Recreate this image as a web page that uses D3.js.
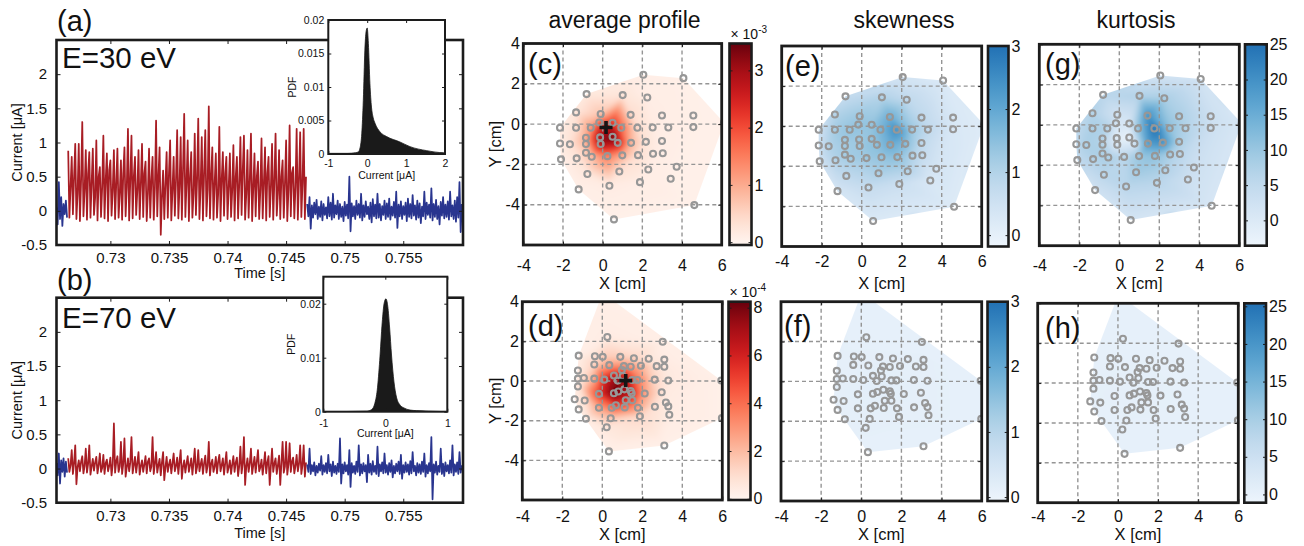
<!DOCTYPE html>
<html><head><meta charset="utf-8">
<script src="https://cdn.jsdelivr.net/npm/d3@7"></script>
<style>
html,body{margin:0;padding:0;background:#fff;}
svg{display:block;}
</style></head><body>
<svg id="fig" width="1304" height="546"></svg>
<script>
// ---------------- DATA ----------------
const sampleDt = 0.0001;                 // s
const timeDomain = [0.7254, 0.7601];
const currentDomain = [-0.5, 2.5];
const timeTicks = [0.73, 0.735, 0.74, 0.745, 0.75, 0.755];
const currentTicks = [-0.5, 0, 0.5, 1, 1.5, 2];
const tStartBlue1 = 0.7254, tStartRed = 0.7264, tStartBlue2 = 0.7468;

// (a) E=30 eV
const blueA1 = [0.05,-0.20,0.42,-0.12,0.20,-0.22,0.10,-0.05,0.15,-0.10];
const redA_peaks = [0.88,0.79,0.98,0.98,1.30,0.89,0.86,0.91,1.03,0.64,1.10,0.84,0.74,0.89,0.91,0.74,0.93,1.20,1.10,0.79,0.89,0.98,0.72,0.91,0.79,1.32,0.93,0.59,0.86,1.03,0.79,1.18,1.08,1.42,1.03,0.86,1.13,1.35,1.08,1.18,1.53,0.93,0.84,1.23,0.86,0.79,0.84,0.96,0.79,1.08,1.10,0.89,1.13,0.84,0.72,1.06,0.93,0.79,0.98,1.13,0.89,0.74,1.03,1.25,0.64,1.20,1.15,1.20];
const redA_lows = [-0.10,-0.05,-0.12,-0.15,-0.08,-0.13,-0.10,-0.06,-0.14,-0.09,-0.11,-0.15,-0.07,-0.12,-0.10,-0.13,-0.08,-0.14,-0.11,-0.06,-0.12,-0.09,-0.15,-0.10,-0.13,-0.08,-0.35,-0.12,-0.10,-0.14,-0.07,-0.11,-0.13,-0.09,-0.15,-0.10,-0.06,-0.12,-0.14,-0.08,-0.11,-0.13,-0.10,-0.15,-0.07,-0.12,-0.09,-0.14,-0.11,-0.06,-0.13,-0.10,-0.15,-0.08,-0.12,-0.11,-0.14,-0.09,-0.13,-0.07,-0.12,-0.10,-0.15,-0.08,-0.11,-0.13,-0.09,-0.12];
const redA_mids = [0.35,0.50,0.25,0.45,0.30,0.55,0.40,0.20,0.50,0.35,0.45,0.60,0.30,0.40,0.25,0.55,0.35,0.45,0.50,0.30,0.40,0.55,0.25,0.45,0.35,0.50,0.20,0.40,0.55,0.30,0.45,0.35,0.60,0.40,0.50,0.25,0.45,0.35,0.55,0.30,0.50,0.40,0.25,0.45,0.55,0.35,0.30,0.50,0.40,0.60,0.25,0.45,0.35,0.50,0.30,0.40,0.55,0.35,0.45,0.25,0.50,0.40,0.30,0.55,0.35,0.45,0.40,0.50];
const blueA2_highs = [0.10,0.20,0.08,0.12,0.16,0.06,0.14,0.10,0.05,0.20,0.12,0.25,0.08,0.15,0.10,0.06,0.13,0.09,0.50,0.11,0.07,0.15,0.10,0.25,0.08,0.14,0.06,0.12,0.17,0.09,0.25,0.10,0.07,0.15,0.11,0.18,0.06,0.13,0.28,0.09,0.14,0.07,0.12,0.18,0.10,0.23,0.08,0.15,0.11,0.06,0.28,0.12,0.09,0.33,0.10,0.16,0.07,0.13,0.20,0.09,0.14,0.28,0.08,0.15,0.20,0.42,0.10];
const blueA2_lows = [-0.08,-0.26,-0.10,-0.05,-0.12,-0.09,-0.14,-0.06,-0.11,-0.08,-0.13,-0.10,-0.05,-0.12,-0.09,-0.15,-0.07,-0.11,-0.30,-0.08,-0.12,-0.06,-0.10,-0.14,-0.09,-0.05,-0.12,-0.17,-0.08,-0.11,-0.10,-0.14,-0.06,-0.12,-0.09,-0.13,-0.07,-0.10,-0.25,-0.08,-0.12,-0.06,-0.15,-0.09,-0.11,-0.07,-0.13,-0.10,-0.18,-0.08,-0.12,-0.06,-0.10,-0.14,-0.09,-0.12,-0.20,-0.07,-0.11,-0.09,-0.13,-0.08,-0.12,-0.16,-0.10,-0.31];

// (b) E=70 eV
const blueB1 = [0.08,-0.10,0.22,-0.22,0.12,-0.05,0.15,-0.12,0.10,-0.06];
const redB_peaks = [0.15,0.27,0.34,0.12,0.18,0.29,0.34,0.14,0.17,0.22,0.20,0.13,0.16,0.66,0.18,0.39,0.44,0.15,0.46,0.17,0.24,0.12,0.18,0.15,0.46,0.24,0.14,0.24,0.17,0.13,0.22,0.16,0.27,0.12,0.18,0.15,0.29,0.27,0.14,0.19,0.39,0.13,0.17,0.20,0.15,0.24,0.12,0.18,0.16,0.32,0.46,0.15,0.29,0.17,0.27,0.13,0.24,0.18,0.29,0.15,0.19,0.39,0.39,0.37,0.16,0.20,0.34,0.34];
const redB_lows = [-0.05,-0.08,-0.23,-0.04,-0.07,-0.06,-0.09,-0.03,-0.07,-0.05,-0.08,-0.04,-0.10,-0.06,-0.05,-0.08,-0.12,-0.04,-0.07,-0.06,-0.09,-0.05,-0.07,-0.04,-0.08,-0.06,-0.10,-0.17,-0.05,-0.07,-0.04,-0.08,-0.15,-0.06,-0.05,-0.09,-0.07,-0.04,-0.08,-0.06,-0.10,-0.05,-0.07,-0.04,-0.09,-0.06,-0.08,-0.05,-0.11,-0.07,-0.24,-0.05,-0.08,-0.06,-0.04,-0.09,-0.07,-0.24,-0.05,-0.08,-0.24,-0.06,-0.09,-0.05,-0.07,-0.04,-0.08,-0.12];
const redB_mids = [0.05,0.08,0.02,0.10,0.04,0.07,0.03,0.09,0.05,0.01,0.08,0.04,0.06,0.10,0.03,0.07,0.02,0.09,0.05,0.08,0.04,0.06,0.10,0.03,0.07,0.05,0.09,0.02,0.06,0.08,0.04,0.10,0.03,0.07,0.05,0.09,0.02,0.06,0.08,0.04,0.07,0.03,0.10,0.05,0.08,0.02,0.06,0.09,0.04,0.07,0.03,0.08,0.05,0.10,0.02,0.06,0.09,0.04,0.07,0.05,0.08,0.03,0.06,0.10,0.04,0.07,0.05,0.09];
const blueB2_highs = [0.06,0.29,0.05,0.09,0.04,0.07,0.18,0.05,0.08,0.20,0.06,0.10,0.04,0.07,0.44,0.06,0.09,0.05,0.27,0.08,0.04,0.10,0.34,0.06,0.08,0.05,0.20,0.07,0.11,0.04,0.32,0.06,0.09,0.22,0.05,0.08,0.12,0.04,0.07,0.10,0.20,0.05,0.09,0.06,0.11,0.24,0.04,0.08,0.06,0.10,0.22,0.05,0.08,0.46,0.06,0.10,0.04,0.29,0.07,0.09,0.05,0.12,0.34,0.06,0.09,0.24,0.05];
const blueB2_lows = [-0.05,-0.08,-0.04,-0.10,-0.06,-0.03,-0.09,-0.05,-0.07,-0.04,-0.11,-0.06,-0.08,-0.05,-0.22,-0.07,-0.04,-0.09,-0.27,-0.06,-0.08,-0.05,-0.10,-0.07,-0.04,-0.20,-0.06,-0.09,-0.05,-0.08,-0.11,-0.04,-0.07,-0.06,-0.09,-0.05,-0.13,-0.07,-0.04,-0.08,-0.15,-0.06,-0.05,-0.09,-0.07,-0.04,-0.10,-0.06,-0.08,-0.05,-0.12,-0.07,-0.04,-0.45,-0.06,-0.09,-0.05,-0.08,-0.11,-0.04,-0.07,-0.06,-0.10,-0.05,-0.08,-0.06];

// inset PDFs
const pdfA_current = [-1,-0.8,-0.5,-0.3,-0.23,-0.18,-0.14,-0.1,-0.06,-0.03,0,0.03,0.07,0.11,0.15,0.2,0.33,0.5,0.84,1.1,1.53,1.96,2];
const pdfA_value = [0.0001,0.0001,0.0001,0.0002,0.0003,0.001,0.003,0.008,0.0155,0.0182,0.0188,0.0165,0.0105,0.007,0.0055,0.0046,0.0033,0.0026,0.0018,0.0011,0.0005,0.0002,0.0002];
const pdfB_current = [-1,-0.3,-0.22,-0.17,-0.13,-0.09,-0.05,-0.02,0.01,0.04,0.07,0.1,0.14,0.18,0.24,0.3,0.4,0.5,0.7,1];
const pdfB_value = [0,0.0001,0.0004,0.0015,0.004,0.0095,0.0165,0.02,0.0209,0.0195,0.0155,0.0105,0.0055,0.0027,0.0012,0.0007,0.0003,0.0002,0.0001,0];
const pdfA_xTicks = [-1,0,1,2], pdfA_yTicks = [0,0.005,0.01,0.015,0.02];
const pdfB_xTicks = [-1,0,1], pdfB_yTicks = [0,0.01,0.02];

// probe positions (cm)
const probeX30 = [2.05,4.07,-0.81,1.01,2.25,-1.34,-0.10,1.41,2.99,4.57,6.12,-2.15,-1.34,-0.60,-0.17,0.50,0.94,1.75,2.52,3.31,4.57,-2.15,-1.65,-0.84,-0.84,-0.13,-0.10,0.50,0.76,1.43,2.18,2.99,-2.10,-1.31,-0.84,-0.55,0.24,0.99,1.78,2.54,3.03,3.73,2.30,-0.77,0.84,3.43,1.88,0.34,-1.21,4.62,0.57];
const probeY30 = [2.45,2.28,1.49,1.44,1.32,0.58,0.50,0.46,0.43,0.43,0.07,-0.18,-0.18,-0.18,0.08,0.07,-0.18,-0.18,-0.17,-0.17,-0.15,-0.96,-1.00,-0.68,-0.99,-0.66,-0.99,-0.63,-0.93,-0.93,-0.88,-0.84,-1.75,-1.70,-1.42,-1.62,-1.59,-1.55,-1.54,-1.47,-1.45,-2.12,-2.25,-2.48,-2.35,-2.71,-2.88,-3.06,-3.24,-4.02,-4.73];
const avgProfile30 = [0.08,0.06,0.2,0.25,0.12,0.25,0.7,0.4,0.12,0.06,0.04,0.12,0.35,1.2,2.0,2.3,1.7,0.4,0.15,0.1,0.06,0.12,0.3,1.0,0.9,3.1,2.9,3.45,2.8,0.9,0.25,0.1,0.08,0.25,0.6,0.8,1.5,1.0,0.35,0.15,0.1,0.06,0.12,0.2,0.3,0.06,0.12,0.15,0.08,0.04,0.05]; // x1e-3
const skewness30 = [0.4,0.25,0.7,1.0,0.8,1.0,1.3,1.9,0.8,0.3,0.15,0.5,1.2,1.4,1.4,1.4,1.7,2.5,1.3,0.8,0.3,0.5,1.0,1.3,1.2,1.3,1.3,1.4,1.5,1.9,1.6,0.8,0.5,1.0,1.2,1.2,1.3,1.4,1.5,1.0,0.7,0.4,1.0,0.8,1.1,0.3,0.6,0.7,0.4,0.2,0.25];
const kurtosis30 = [2,2,6,7,8,7,2,20,8,3,1,5,8,7,1.5,1,11,25,11,7,3,5,8,7,7,-1,0,-3,1,18,20,8,5,7,8,8,6,10,11,8,6,3,7,6,9,3,6,6,2.5,1,1.5];
const crossAvg30 = [0.17, -0.17];

const probeX70 = [0.25,3.02,-1.18,-0.37,0.02,0.90,1.58,2.32,3.10,-0.40,0.35,1.08,1.42,1.93,2.72,3.10,0.98,-1.22,-1.22,-0.92,-0.40,0.10,0.58,1.02,0.77,1.50,1.75,2.62,3.30,5.95,-1.22,-1.38,-0.88,-1.18,-0.82,-0.17,0.58,0.80,1.10,1.42,1.47,1.17,1.50,2.12,2.97,-0.17,0.47,0.68,1.12,1.78,2.63,3.18,3.30,3.35,0.42,1.88,0.22,5.98,3.10,0.33,0.02];
const probeY70 = [2.22,1.98,1.28,1.25,1.22,1.22,1.15,1.12,1.08,0.83,0.80,0.75,0.72,0.77,0.75,0.72,0.55,0.53,0.12,0.15,0.12,0.07,0.28,0.25,0.02,0.05,0.05,0.07,0.03,0.03,-0.28,-0.92,-0.98,-1.43,-1.90,-0.65,-0.62,-0.53,-0.42,-0.50,-0.62,-0.97,-0.97,-0.63,-0.57,-1.35,-1.35,-1.22,-1.33,-1.35,-1.30,-1.08,-1.28,-1.70,-1.88,-1.78,-2.33,-1.87,-3.25,-3.55,4.45];
const avgProfile70 = [0.4,0.3,0.3,0.8,1.5,1.5,1.2,0.6,0.4,1.3,2.8,3.2,3.0,2.2,0.8,0.5,4.5,0.4,0.5,1.1,2.5,5.8,6.3,6.3,7.8,5.3,3.8,1.2,0.5,0.2,0.5,0.4,0.9,0.4,0.4,5.3,8.2,8.0,7.3,6.3,6.3,5.8,4.8,2.7,0.8,2.7,3.8,5.3,4.0,2.7,0.8,0.4,0.4,0.4,1.6,1.1,0.6,0.2,0.2,0.2,0.2]; // x1e-4
const skewness70 = [0.08,0.08,0.12,0.12,0.12,0.12,0.12,0.12,0.12,0.12,0.12,0.14,0.14,0.12,0.12,0.12,0.14,0.12,0.12,0.12,0.12,0.15,0.15,0.15,0.15,0.15,0.15,0.12,0.12,0.08,0.12,0.12,0.12,0.12,0.12,0.15,0.15,0.15,0.15,0.15,0.15,0.15,0.15,0.14,0.12,0.12,0.14,0.14,0.14,0.12,0.12,0.12,0.12,0.12,0.12,0.12,0.12,0.08,0.08,0.08,0.08];
const kurtosis70 = [0.1,0.1,0.3,0.3,0.3,0.3,0.3,0.3,0.3,0.3,0.3,0.4,0.4,0.3,0.3,0.3,0.4,0.3,0.3,0.3,0.3,0.5,0.5,0.5,0.5,0.5,0.5,0.3,0.3,0.1,0.3,0.3,0.3,0.3,0.3,0.5,0.5,0.5,0.5,0.5,0.5,0.5,0.5,0.4,0.3,0.3,0.4,0.4,0.4,0.3,0.3,0.3,0.3,0.3,0.3,0.3,0.3,0.1,0.1,0.1,0.1];
const crossAvg70 = [1.17, 0.02];

const mapXDomain = [-4, 6], mapYDomain = [-6, 4];
const mapXTicks = [-4,-2,0,2,4,6], mapYTicks = [-4,-2,0,2,4];
const gridX = [-2,0,2,4], gridY = [-4,-2,0,2];
const cbAvg30 = [-0.05, 3.47], cbAvg70 = [-0.05, 8.25];
const cbSkew30 = [-0.18, 3.0], cbSkew70 = [-0.06, 3.0];
const cbKurt30 = [-3.6, 25], cbKurt70 = [-1.1, 25.4];
const cbTicksAvg30 = [0,1,2,3], cbTicksAvg70 = [0,2,4,6,8];
const cbTicksSkew = [0,1,2,3], cbTicksKurt = [0,5,10,15,20,25];

// ---------------- DRAWING ----------------
const FONT = '"Liberation Sans", Arial, Helvetica, sans-serif';
const INK = '#1c1c1c';
const RED = '#a81d24', BLUE = '#29358f';
const svg = d3.select('#fig').attr('font-family', FONT);
const defs = svg.append('defs');
defs.append('filter').attr('id','soft').attr('x','-10%').attr('y','-10%').attr('width','120%').attr('height','120%')
  .append('feGaussianBlur').attr('stdDeviation', 2.8);
const hy = d => String(+(+d).toFixed(4)).replace('\u2212','-');

function interleave(...arrs){
  const out=[]; const n=Math.max(...arrs.map(a=>a.length));
  for(let i=0;i<n;i++) for(const a of arrs) if(i<a.length) out.push(a[i]);
  return out;
}
function styleAxis(sel, fs){
  sel.attr('font-family', FONT).attr('font-size', fs);
  sel.select('.domain').remove();
  sel.selectAll('.tick line').attr('stroke', INK).attr('stroke-width', 1);
  sel.selectAll('.tick text').attr('fill', '#111');
}
let clipN = 0;
function clipRect(x0,y0,x1,y1){
  const id = 'cl'+(clipN++);
  defs.append('clipPath').attr('id',id).append('rect').attr('x',x0).attr('y',y0).attr('width',x1-x0).attr('height',y1-y0);
  return `url(#${id})`;
}

// ---- time trace panels ----
function tracePanel(c){
  const x = d3.scaleLinear().domain(timeDomain).range([c.x0,c.x1]);
  const y = d3.scaleLinear().domain(currentDomain).range([c.y1,c.y0]);
  const g = svg.append('g');
  const plot = g.append('g').attr('clip-path', clipRect(c.x0,c.y0,c.x1,c.y1));
  const line = d3.line().x(d=>x(d[0])).y(d=>y(d[1]));
  c.segs.forEach(s=>{
    const pts = s.v.map((v,i)=>[s.t0 + i*sampleDt, v]);
    plot.append('path').attr('d', line(pts)).attr('fill','none').attr('stroke', s.color)
      .attr('stroke-width', 1.75).attr('stroke-linejoin','round');
  });
  g.append('g').attr('transform',`translate(0,${c.y1})`)
    .call(d3.axisBottom(x).tickValues(timeTicks).tickSize(-4).tickPadding(7.6).tickFormat(hy)).call(styleAxis,15);
  g.append('g').attr('transform',`translate(0,${c.y0})`)
    .call(d3.axisTop(x).tickValues(timeTicks).tickSize(-4).tickFormat('')).call(styleAxis,15);
  g.append('g').attr('transform',`translate(${c.x0},0)`)
    .call(d3.axisLeft(y).tickValues(currentTicks).tickSize(-4).tickPadding(9.5).tickFormat(hy)).call(styleAxis,15);
  g.append('g').attr('transform',`translate(${c.x1},0)`)
    .call(d3.axisRight(y).tickValues(currentTicks).tickSize(-4).tickFormat('')).call(styleAxis,15);
  g.append('rect').attr('x',c.x0).attr('y',c.y0).attr('width',c.x1-c.x0).attr('height',c.y1-c.y0)
    .attr('fill','none').attr('stroke',INK).attr('stroke-width',2.6);
  g.append('text').attr('x',(c.x0+c.x1)/2).attr('y',c.timeY).attr('text-anchor','middle')
    .attr('font-size',14.5).attr('fill','#111').text('Time [s]');
  g.append('text').attr('transform',`translate(17,${(c.y0+c.y1)/2}) rotate(-90)`).attr('dy','0.35em')
    .attr('text-anchor','middle').attr('font-size',14.5).attr('fill','#111').text('Current [\u03bcA]');
  g.append('text').attr('x',57).attr('y',c.labelY).attr('font-size',29).attr('fill','#111').text(c.label);
  g.append('text').attr('x',62).attr('y',c.energyY).attr('font-size',29.5).attr('fill','#111').text(c.energy);
}

function insetPanel(c){
  const x = d3.scaleLinear().domain(c.xdom).range([c.x0,c.x1]);
  const y = d3.scaleLinear().domain(c.ydom).range([c.y1,c.y0]);
  const g = svg.append('g');
  g.append('rect').attr('x',c.x0).attr('y',c.y0).attr('width',c.x1-c.x0).attr('height',c.y1-c.y0).attr('fill','#fff');
  const pts = c.xs.map((v,i)=>[v, c.ys[i]]);
  g.append('g').attr('clip-path', clipRect(c.x0,c.y0,c.x1,c.y1)).append('path')
    .attr('d', d3.area().x(d=>x(d[0])).y0(y(0)).y1(d=>y(d[1])).curve(d3.curveMonotoneX)(pts))
    .attr('fill','#1a1a1a').attr('stroke','#1a1a1a').attr('stroke-width',0.8);
  g.append('g').attr('transform',`translate(0,${c.y1})`)
    .call(d3.axisBottom(x).tickValues(c.xticks).tickSize(-3).tickPadding(c.xpad).tickFormat(hy)).call(styleAxis,10.5);
  g.append('g').attr('transform',`translate(0,${c.y0})`)
    .call(d3.axisTop(x).tickValues(c.xticks).tickSize(-3).tickFormat('')).call(styleAxis,10.5);
  g.append('g').attr('transform',`translate(${c.x0},0)`)
    .call(d3.axisLeft(y).tickValues(c.yticks).tickSize(-3).tickPadding(c.ypad).tickFormat(hy)).call(styleAxis,10.5);
  g.append('g').attr('transform',`translate(${c.x1},0)`)
    .call(d3.axisRight(y).tickValues(c.yticks).tickSize(-3).tickFormat('')).call(styleAxis,10.5);
  g.append('rect').attr('x',c.x0).attr('y',c.y0).attr('width',c.x1-c.x0).attr('height',c.y1-c.y0)
    .attr('fill','none').attr('stroke',INK).attr('stroke-width',2);
  g.append('text').attr('x',(c.x0+c.x1)/2).attr('y',c.xlabY).attr('text-anchor','middle')
    .attr('font-size',10.5).attr('fill','#111').text('Current [\u03bcA]');
  g.append('text').attr('transform',`translate(${c.pdfX},${(c.y0+c.y1)/2}) rotate(-90)`).attr('dy','0.35em')
    .attr('text-anchor','middle').attr('font-size',10.5).attr('fill','#111').text('PDF');
}

// ---- map panels ----
const redMap = t => d3.interpolateReds(t);
const blueMap = t => d3.interpolateBlues(0.05 + 0.7*t);

function buildField(px, py, vals, norm, lut, ox, oy, W, H){
  const n = px.length, coords = new Float64Array(2*n);
  for(let i=0;i<n;i++){coords[2*i]=px[i]; coords[2*i+1]=py[i];}
  const del = new d3.Delaunay(coords);
  const grid = new Float32Array(W*H).fill(NaN);
  const T = del.triangles;
  for(let t=0;t<T.length;t+=3){
    const a=T[t], b=T[t+1], c=T[t+2];
    const ax=px[a]-ox, ay=py[a]-oy, bx=px[b]-ox, by=py[b]-oy, cx=px[c]-ox, cy=py[c]-oy;
    const det=(by-cy)*(ax-cx)+(cx-bx)*(ay-cy);
    if(Math.abs(det)<1e-9) continue;
    const i0=Math.max(0,Math.floor(Math.min(ax,bx,cx))), i1=Math.min(W-1,Math.ceil(Math.max(ax,bx,cx)));
    const j0=Math.max(0,Math.floor(Math.min(ay,by,cy))), j1=Math.min(H-1,Math.ceil(Math.max(ay,by,cy)));
    for(let j=j0;j<=j1;j++){ const Y=j+0.5;
      for(let i=i0;i<=i1;i++){ const X=i+0.5;
        const l1=((by-cy)*(X-cx)+(cx-bx)*(Y-cy))/det;
        const l2=((cy-ay)*(X-cx)+(ax-cx)*(Y-cy))/det;
        const l3=1-l1-l2;
        if(l1>=-1e-4&&l2>=-1e-4&&l3>=-1e-4) grid[j*W+i]=l1*vals[a]+l2*vals[b]+l3*vals[c];
      }}
  }
  let hint=0;
  for(let j=0;j<H;j++) for(let i=0;i<W;i++){
    const k=j*W+i;
    if(isNaN(grid[k])){ hint=del.find(i+0.5+ox, j+0.5+oy, hint); grid[k]=vals[hint]; }
  }
  const cv=document.createElement('canvas'); cv.width=W; cv.height=H;
  const ctx=cv.getContext('2d'); const img=ctx.createImageData(W,H);
  for(let k=0;k<W*H;k++){
    const t=Math.max(0,Math.min(1,norm(grid[k])));
    const col=lut[Math.round(t*255)];
    img.data[4*k]=col.r; img.data[4*k+1]=col.g; img.data[4*k+2]=col.b; img.data[4*k+3]=255;
  }
  ctx.putImageData(img,0,0);
  return {url: cv.toDataURL(), hull: del.renderHull()};
}

function mapPanel(c){
  const x = d3.scaleLinear().domain(mapXDomain).range([c.x0,c.x1]);
  const y = d3.scaleLinear().domain(mapYDomain).range([c.y1,c.y0]);
  const cs = d3.scaleLinear().domain(c.cbDom).range([c.y1,c.y0]);
  const norm = v => (v - c.cbDom[0])/(c.cbDom[1]-c.cbDom[0]);
  const lut = d3.range(256).map(i=>d3.rgb(c.cmap(i/255)));
  const g = svg.append('g');
  const pad = 14, ox = c.x0 - pad, oy = c.y0 - pad;
  const W = Math.ceil(c.x1 - c.x0 + 2*pad), H = Math.ceil(c.y1 - c.y0 + 2*pad);
  const px = c.xs.map(x), py = c.ys.map(y);
  const f = buildField(px, py, c.vals, norm, lut, ox, oy, W, H);
  const hid = 'hull'+(clipN++);
  defs.append('clipPath').attr('id',hid).append('path').attr('d', f.hull);
  const inner = g.append('g').attr('clip-path', clipRect(c.x0,c.y0,c.x1,c.y1));
  inner.append('g').attr('clip-path',`url(#${hid})`).append('image')
    .attr('x',ox).attr('y',oy).attr('width',W).attr('height',H).attr('href',f.url)
    .attr('preserveAspectRatio','none').attr('filter','url(#soft)');
  const gridG = inner.append('g').attr('stroke','#959595').attr('stroke-width',1.4).attr('stroke-dasharray','4,3');
  gridX.forEach(v=>gridG.append('line').attr('x1',x(v)).attr('x2',x(v)).attr('y1',c.y0).attr('y2',c.y1));
  gridY.forEach(v=>gridG.append('line').attr('y1',y(v)).attr('y2',y(v)).attr('x1',c.x0).attr('x2',c.x1));
  inner.append('g').selectAll('circle').data(c.xs.map((v,i)=>[v,c.ys[i]])).join('circle')
    .attr('cx',d=>x(d[0])).attr('cy',d=>y(d[1])).attr('r',3)
    .attr('fill','none').attr('stroke','#979797').attr('stroke-width',2.1);
  if(c.cross){
    inner.append('path').attr('transform',`translate(${x(c.cross[0])},${y(c.cross[1])})`)
      .attr('d','M-6.5,0H6.5M0,-6.5V6.5').attr('stroke','#151515').attr('stroke-width',3.6);
  }
  // axes
  g.append('g').attr('transform',`translate(0,${c.y1})`)
    .call(d3.axisBottom(x).tickValues(mapXTicks).tickSize(-3.5).tickPadding(c.xpad).tickFormat(hy)).call(styleAxis,16);
  g.append('g').attr('transform',`translate(0,${c.y0})`)
    .call(d3.axisTop(x).tickValues(mapXTicks).tickSize(-3.5).tickFormat('')).call(styleAxis,16);
  g.append('g').attr('transform',`translate(${c.x0},0)`)
    .call(d3.axisLeft(y).tickValues(mapYTicks).tickSize(-3.5).tickPadding(3.5).tickFormat(c.showY?hy:'')).call(styleAxis,16);
  g.append('g').attr('transform',`translate(${c.x1},0)`)
    .call(d3.axisRight(y).tickValues(mapYTicks).tickSize(-3.5).tickFormat('')).call(styleAxis,16);
  g.append('rect').attr('x',c.x0).attr('y',c.y0).attr('width',c.x1-c.x0).attr('height',c.y1-c.y0)
    .attr('fill','none').attr('stroke',INK).attr('stroke-width',2.8);
  g.append('text').attr('x',(c.x0+c.x1)/2).attr('y',c.xlabY).attr('text-anchor','middle')
    .attr('font-size',16.5).attr('fill','#111').text('X [cm]');
  if(c.showY){
    g.append('text').attr('transform',`translate(495,${(c.y0+c.y1)/2}) rotate(-90)`).attr('dy','0.35em')
      .attr('text-anchor','middle').attr('font-size',16.5).attr('fill','#111').text('Y [cm]');
  }
  g.append('text').attr('x',c.labX).attr('y',c.labY).attr('font-size',29).attr('fill','#111').text(c.label);
  if(c.title){
    g.append('text').attr('x',c.titleX).attr('y',28).attr('text-anchor','middle')
      .attr('font-size',23).attr('fill','#111').text(c.title);
  }
  // colorbar
  const gid = 'grad'+(clipN++);
  const grad = defs.append('linearGradient').attr('id',gid).attr('x1',0).attr('x2',0).attr('y1',1).attr('y2',0);
  d3.range(0,1.0001,0.05).forEach(t=>grad.append('stop').attr('offset',t).attr('stop-color',c.cmap(t)));
  g.append('rect').attr('x',c.cb[0]).attr('y',c.y0).attr('width',c.cb[1]-c.cb[0]).attr('height',c.y1-c.y0)
    .attr('fill',`url(#${gid})`);
  g.append('g').attr('transform',`translate(${c.cb[1]},0)`)
    .call(d3.axisRight(cs).tickValues(c.cbTicks).tickSize(-3).tickPadding(3).tickFormat(hy)).call(styleAxis,16);
  g.append('g').attr('transform',`translate(${c.cb[0]},0)`)
    .call(d3.axisLeft(cs).tickValues(c.cbTicks).tickSize(-3).tickFormat('')).call(styleAxis,16);
  g.append('rect').attr('x',c.cb[0]).attr('y',c.y0).attr('width',c.cb[1]-c.cb[0]).attr('height',c.y1-c.y0)
    .attr('fill','none').attr('stroke',INK).attr('stroke-width',2.6);
  if(c.exp){
    const t = g.append('text').attr('x',c.cb[0]+1).attr('y',c.y0-5).attr('font-size',14).attr('fill','#111');
    t.append('tspan').text('\u00d7 10');
    t.append('tspan').attr('dy',-6).attr('font-size',10).text(c.exp);
  }
}

// ---- build ----
tracePanel({x0:56.5,x1:463,y0:40,y1:245,label:'(a)',labelY:31,energy:'E=30 eV',energyY:68,timeY:278,
  segs:[{t0:tStartBlue1,v:blueA1,color:BLUE},{t0:tStartRed,v:interleave(redA_peaks,redA_lows,redA_mids),color:RED},
        {t0:tStartBlue2,v:interleave(blueA2_highs,blueA2_lows),color:BLUE}]});
tracePanel({x0:56.5,x1:463,y0:297.7,y1:502.7,label:'(b)',labelY:290,energy:'E=70 eV',energyY:328,timeY:538,
  segs:[{t0:tStartBlue1,v:blueB1,color:BLUE},{t0:tStartRed,v:interleave(redB_peaks,redB_lows,redB_mids),color:RED},
        {t0:tStartBlue2,v:interleave(blueB2_highs,blueB2_lows),color:BLUE}]});
insetPanel({x0:328.3,x1:445,y0:20,y1:154,xdom:[-1,2],ydom:[0,0.02],xticks:pdfA_xTicks,yticks:pdfA_yTicks,
  xs:pdfA_current,ys:pdfA_value,xpad:5.5,ypad:4,xlabY:179,pdfX:292});
insetPanel({x0:323.3,x1:447.3,y0:276.7,y1:411.7,xdom:[-1,1],ydom:[0,0.025],xticks:pdfB_xTicks,yticks:pdfB_yTicks,
  xs:pdfB_current,ys:pdfB_value,xpad:7.5,ypad:2.5,xlabY:437,pdfX:291});

mapPanel({x0:523.3,x1:721.7,y0:43.5,y1:245,cb:[729.5,751.5],cbDom:cbAvg30,cbTicks:cbTicksAvg30,cmap:redMap,
  xs:probeX30,ys:probeY30,vals:avgProfile30,cross:crossAvg30,showY:true,label:'(c)',labX:528,labY:74,
  title:'average profile',titleX:624.5,xpad:14.5,xlabY:289,exp:'-3'});
mapPanel({x0:781.7,x1:981.7,y0:46,y1:246.5,cb:[988,1008.5],cbDom:cbSkew30,cbTicks:cbTicksSkew,cmap:blueMap,
  xs:probeX30,ys:probeY30,vals:skewness30,showY:false,label:'(e)',labX:785,labY:76,
  title:'skewness',titleX:904,xpad:9,xlabY:289});
mapPanel({x0:1039.3,x1:1239.3,y0:44.3,y1:245.7,cb:[1245,1266.7],cbDom:cbKurt30,cbTicks:cbTicksKurt,cmap:blueMap,
  xs:probeX30,ys:probeY30,vals:kurtosis30,showY:false,label:'(g)',labX:1045,labY:74,
  title:'kurtosis',titleX:1136,xpad:14,xlabY:289});
mapPanel({x0:522.3,x1:722.3,y0:301.7,y1:500,cb:[728.5,750.5],cbDom:cbAvg70,cbTicks:cbTicksAvg70,cmap:redMap,
  xs:probeX70,ys:probeY70,vals:avgProfile70,cross:crossAvg70,showY:true,label:'(d)',labX:528,labY:336,
  xpad:10.5,xlabY:540,exp:'-4'});
mapPanel({x0:781,x1:981.7,y0:301.7,y1:501,cb:[987.5,1007.7],cbDom:cbSkew70,cbTicks:cbTicksSkew,cmap:blueMap,
  xs:probeX70,ys:probeY70,vals:skewness70,showY:false,label:'(f)',labX:784,labY:336,xpad:9.5,xlabY:540});
mapPanel({x0:1037.7,x1:1238.3,y0:303.3,y1:502.7,cb:[1244.3,1266],cbDom:cbKurt70,cbTicks:cbTicksKurt,cmap:blueMap,
  xs:probeX70,ys:probeY70,vals:kurtosis70,showY:false,label:'(h)',labX:1045,labY:338,xpad:8,xlabY:540});
</script></body></html>
